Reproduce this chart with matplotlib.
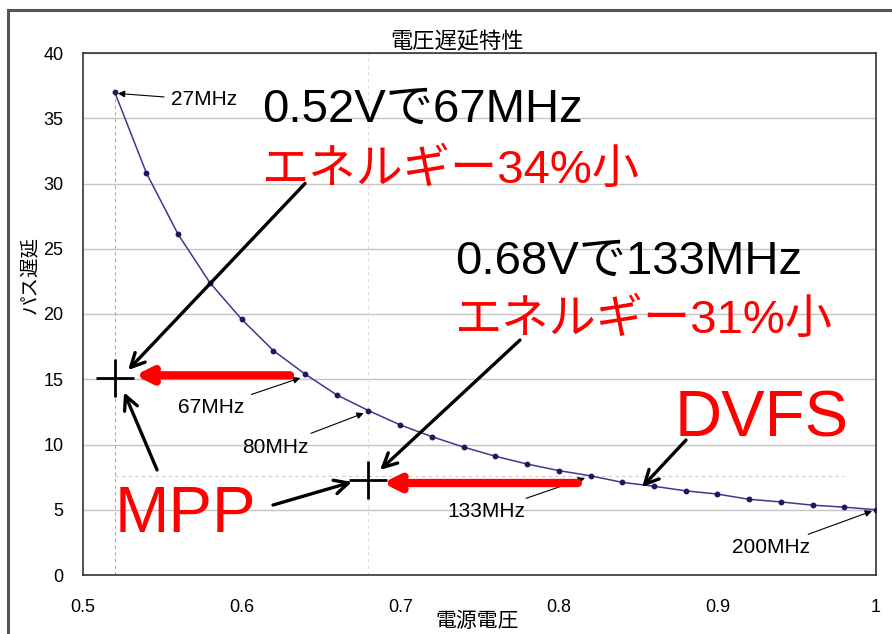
import matplotlib
matplotlib.use("Agg")
import matplotlib.pyplot as plt
from matplotlib.patches import Rectangle

# ---------------- data ----------------
voltage = [0.52, 0.54, 0.56, 0.58, 0.60, 0.62, 0.64, 0.66, 0.68, 0.70,
           0.72, 0.74, 0.76, 0.78, 0.80, 0.82, 0.84, 0.86, 0.88, 0.90,
           0.92, 0.94, 0.96, 0.98, 1.00]
delay = [37.0, 30.8, 26.1, 22.4, 19.6, 17.2, 15.4, 13.8, 12.6, 11.5,
         10.6, 9.8, 9.1, 8.5, 8.0, 7.6, 7.1, 6.8, 6.45, 6.2,
         5.8, 5.6, 5.35, 5.2, 5.0]

freq_labels = ["27MHz", "67MHz", "80MHz", "133MHz", "200MHz"]
freq_points = [(0.522, 36.9), (0.637, 15.1), (0.677, 12.4), (0.8165, 7.43), (0.9975, 4.9)]
freq_text_pos = [(0.5763, 36.4), (0.581, 12.8), (0.621, 9.8), (0.7544, 4.83), (0.9335, 2.07)]

mpp_points = [(0.52, 15.1), (0.68, 7.3)]
x_ticks = [0.5, 0.6, 0.7, 0.8, 0.9, 1.0]
x_ticklabels = ["0.5", "0.6", "0.7", "0.8", "0.9", "1"]
y_ticks = [0, 5, 10, 15, 20, 25, 30, 35, 40]

title = "電圧遅延特性"
xlabel = "電源電圧"
ylabel = "パス遅延"

# ---------------- fonts ----------------
JP = ["Noto Sans CJK JP", "DejaVu Sans"]
MIX = ["Liberation Sans", "Noto Sans CJK JP"]
plt.rcParams["font.family"] = ["Liberation Sans", "Noto Sans CJK JP", "DejaVu Sans"]

fig = plt.figure(figsize=(8.92, 6.34), dpi=100, facecolor="white")
ax = fig.add_axes([83 / 892, 59 / 634, 793 / 892, 522 / 634])

# outer chart frame
fig.patches.append(Rectangle((8 / 892, -0.05), 1.2, 1 - 10 / 634 + 0.05,
                             transform=fig.transFigure, fill=False,
                             edgecolor="#555555", lw=2.2, zorder=0))

ax.set_xlim(0.5, 1.0)
ax.set_ylim(0, 40)
ax.set_xticks(x_ticks)
ax.set_xticklabels(x_ticklabels)
ax.set_yticks(y_ticks)
ax.tick_params(length=0, labelsize=13)
ax.tick_params(axis="y", pad=14)
ax.tick_params(axis="x", pad=17)
ax.yaxis.grid(True, color="#c4c4c4", lw=1)
ax.set_axisbelow(True)
for s in ax.spines.values():
    s.set_color("#333333")
    s.set_linewidth(1.2)

# helper dashed lines
ax.axvline(0.52, ymax=37 / 40, color="#aaaaaa", lw=0.8, ls=(0, (3, 3)), zorder=1)
ax.axvline(0.68, color="#dddddd", lw=0.8, ls=(0, (3, 3)), zorder=1)
ax.plot([0.52, 0.98], [7.6, 7.6], color="#cccccc", lw=0.8, ls=(0, (3, 3)), zorder=1)

# curve
ax.plot(voltage, delay, color="#3a3a8f", lw=1.1, marker="o", ms=3.2,
        mfc="#1a1a5e", mec="#1a1a5e", zorder=3)

ax.set_title(title, family=JP, fontsize=16, pad=3, x=0.472)
ax.set_xlabel(xlabel, family=JP, fontsize=15)
ax.xaxis.set_label_coords(0.497, -0.068)
ax.set_ylabel(ylabel, family=JP, fontsize=14, va="center")
ax.yaxis.set_label_coords(-0.067, 0.575)

# small frequency labels
for lab, pt, tp in zip(freq_labels, freq_points, freq_text_pos):
    ax.annotate(lab, xy=pt, xytext=tp, ha="center", va="center",
                family="Liberation Sans", fontsize=15,
                arrowprops=dict(arrowstyle="-|>", color="black", lw=0.8,
                                mutation_scale=10, shrinkA=3, shrinkB=0))

# MPP crosses
for (mx, my) in mpp_points:
    ax.plot(mx, my, marker="+", ms=27, mew=2, color="black", zorder=5)

# red arrows
ax.annotate("", xy=(0.5328, 15.3), xytext=(0.6305, 15.3),
            arrowprops=dict(arrowstyle="->,head_length=0.9,head_width=0.45",
                            color="#ff0000", lw=6, shrinkA=0, shrinkB=0))
ax.annotate("", xy=(0.689, 7.05), xytext=(0.812, 7.05),
            arrowprops=dict(arrowstyle="->,head_length=0.9,head_width=0.45",
                            color="#ff0000", lw=6, shrinkA=0, shrinkB=0))

# black arrows
black_arrows = [((0.640, 30.0), (0.5284, 15.7)),
                ((0.5467, 8.05), (0.5259, 14.0)),
                ((0.6198, 5.36), (0.6696, 7.13)),
                ((0.7755, 18.0), (0.6873, 8.05)),
                ((0.8802, 10.34), (0.8525, 6.74))]
for tail, head in black_arrows:
    ax.annotate("", xy=head, xytext=tail,
                arrowprops=dict(arrowstyle="->,head_length=1.0,head_width=0.5",
                                color="black", lw=2.4, shrinkA=0, shrinkB=0))

# big texts
ax.text(0.6129, 35.6, "0.52Vで67MHz", family=MIX, fontsize=34, color="black",
        ha="left", va="center")
ax.text(0.6129, 31.0, "エネルギー34%小", family=MIX, fontsize=34, color="#ff0000",
        ha="left", va="center")
ax.text(0.7346, 24.0, "0.68Vで133MHz", family=MIX, fontsize=34, color="black",
        ha="left", va="center")
ax.text(0.7346, 19.5, "エネルギー31%小", family=MIX, fontsize=34, color="#ff0000",
        ha="left", va="center")
ax.text(0.8733, 11.9, "DVFS", family="Liberation Sans", fontsize=47, color="#ff0000",
        ha="left", va="center")
ax.text(0.5202, 4.6, "MPP", family="Liberation Sans", fontsize=47, color="#ff0000",
        ha="left", va="center")

fig.savefig("out.png", dpi=100, facecolor="white")
